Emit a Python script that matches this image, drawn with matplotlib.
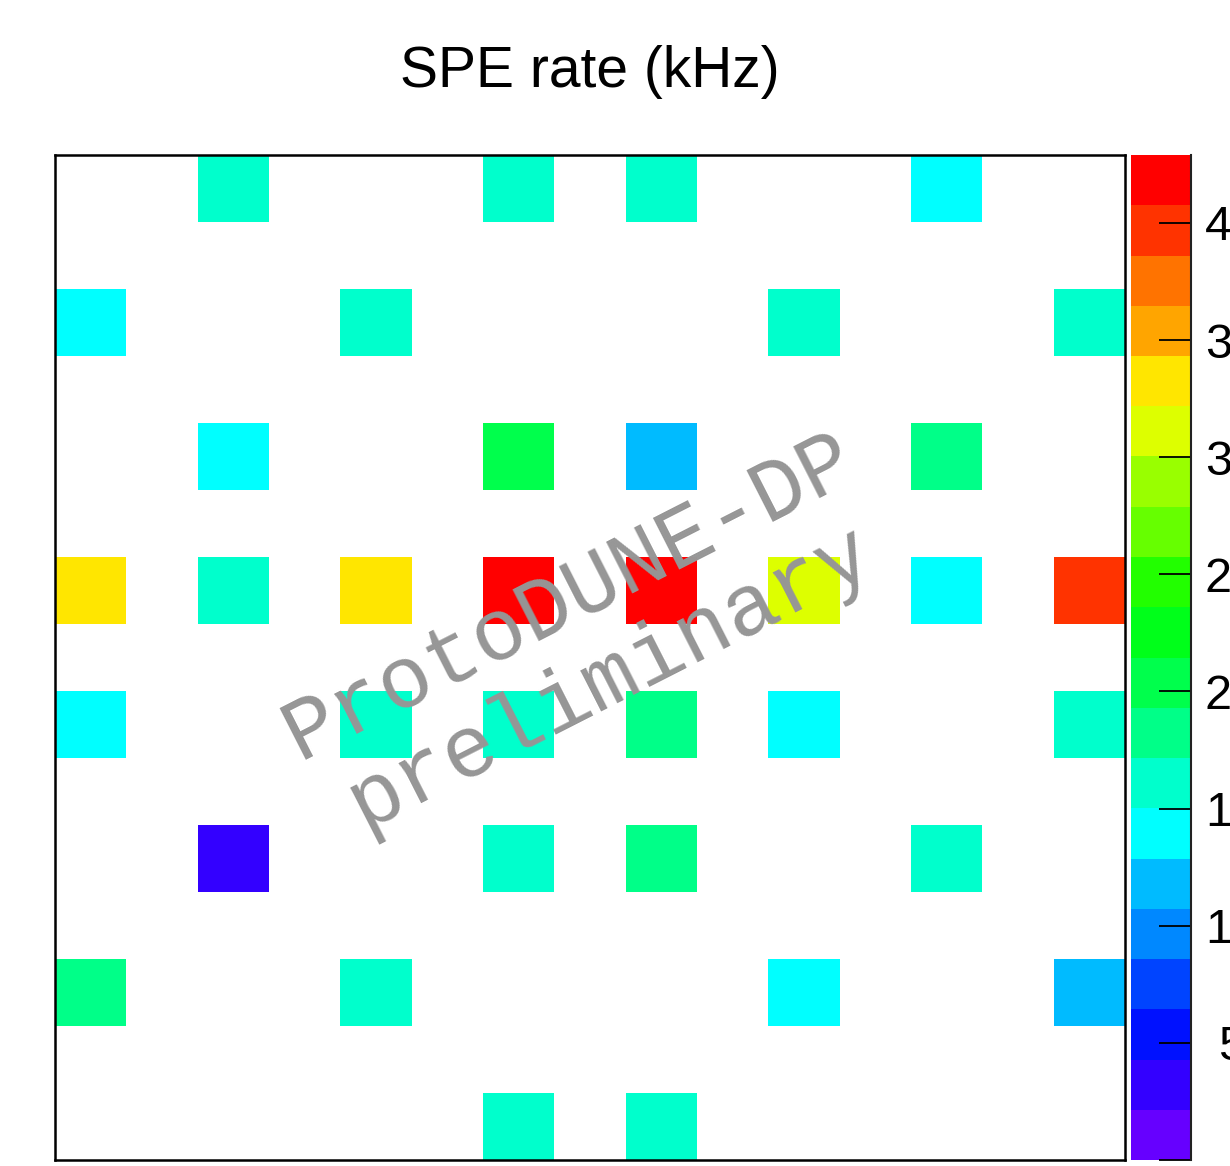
import numpy as np
import matplotlib
matplotlib.use("Agg")
import matplotlib.pyplot as plt
from matplotlib.colors import ListedColormap, BoundaryNorm

title = "SPE rate (kHz)"
watermark = "ProtoDUNE-DP\npreliminary"

# 8x8 PMT grid, top row first; None = no PMT in that position
row0 = [None, 1610, None, 1610, 1610, None, 1400, None]
row1 = [1400, None, 1610, None, None, 1610, None, 1610]
row2 = [None, 1400, None, 2040, 1180, None, 1820, None]
row3 = [3330, 1610, 3330, 4290, 4150, 3120, 1400, 3970]
row4 = [1400, None, 1610, 1610, 1820, 1400, None, 1610]
row5 = [None, 320, None, 1610, 1820, None, 1610, None]
row6 = [1820, None, 1610, None, None, 1400, None, 1180]
row7 = [None, None, None, 1610, 1610, None, None, None]
rows = [row0, row1, row2, row3, row4, row5, row6, row7]

z_min, z_max = 0, 4290
n_levels = 20
cbar_ticks = [0, 500, 1000, 1500, 2000, 2500, 3000, 3500, 4000]
cbar_labels = ["0", "500", "1000", "1500", "2000", "2500", "3000", "3500", "4000"]

palette = ["#6600FF", "#3300FF", "#0011FF", "#0044FF", "#0088FF",
           "#00BBFF", "#00FFFF", "#00FFCC", "#00FF88", "#00FF4C",
           "#00FF1A", "#22FF00", "#66FF00", "#99FF00", "#DDFF00",
           "#FFE600", "#FFA500", "#FF7300", "#FF3300", "#FF0000"]

nb = 15
Z = np.full((nb, nb), np.nan)
for r, row in enumerate(rows):
    for c, v in enumerate(row):
        if v is not None:
            Z[nb - 1 - 2 * r, 2 * c] = v
Z = np.ma.masked_invalid(Z)

W, H = 1230, 1166
fig = plt.figure(figsize=(W / 100, H / 100), dpi=100)
fig.patch.set_facecolor("white")

ax = fig.add_axes([55 / W, (H - 1160) / H, 1070 / W, 1005 / H])
cmap = ListedColormap(palette)
cmap.set_bad("white")
norm = BoundaryNorm(np.linspace(z_min, z_max, n_levels + 1), n_levels)
edges = np.arange(nb + 1)
mesh = ax.pcolormesh(edges, edges, Z, cmap=cmap, norm=norm)
ax.set_xlim(0, nb)
ax.set_ylim(0, nb)
ax.set_xticks([])
ax.set_yticks([])
for s in ax.spines.values():
    s.set_linewidth(1.8)
    s.set_color("black")

ax.text(0.5, 0.52, watermark, transform=ax.transAxes, rotation=27,
        ha="center", va="center", multialignment="center",
        family="Liberation Mono", fontsize=63, color="#969696",
        linespacing=1.15, rotation_mode="anchor")

fig.text(590 / W, 1 - 87 / H, title, ha="center", va="baseline",
         family="Liberation Sans", fontsize=41)

cax = fig.add_axes([1131 / W, (H - 1160) / H, 60 / W, 1005 / H])
cb = fig.colorbar(mesh, cax=cax, ticks=cbar_ticks)
cb.outline.set_visible(False)
cax.set_ylim(z_min, z_max)
cax.spines["right"].set_visible(True)
cax.spines["right"].set_linewidth(1.5)
cax.spines["right"].set_color("#222222")
cax.yaxis.set_ticks_position("right")
cax.set_yticks(cbar_ticks)
cax.set_yticklabels(cbar_labels, family="Liberation Sans")
cax.tick_params(axis="y", direction="in", length=23, width=1.3,
                labelsize=35, pad=49, color="black")
cax.minorticks_off()
for lab in cax.get_yticklabels():
    lab.set_horizontalalignment("center")

fig.savefig("out.png", dpi=100)
